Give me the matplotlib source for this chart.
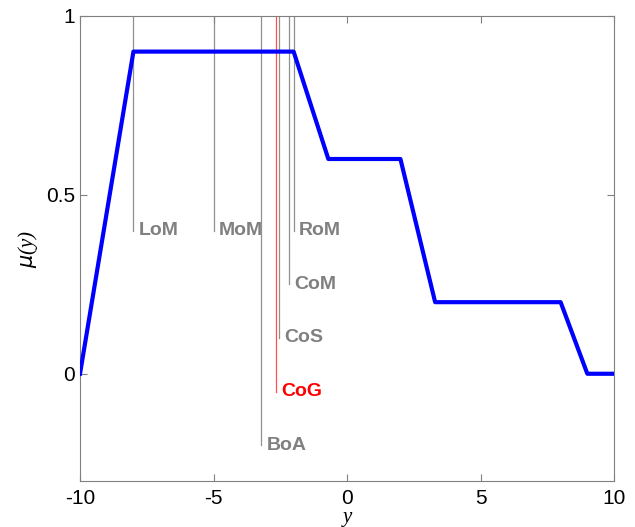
import matplotlib
matplotlib.use('Agg')
import matplotlib.pyplot as plt

# membership function (piecewise linear)
y_pts = [-10, -8, -2, -0.7, 2, 3.3, 8, 9, 10]
mu_pts = [0, 0.9, 0.9, 0.6, 0.6, 0.2, 0.2, 0, 0]

# defuzzification results: name, position, label level
names = ['LoM', 'MoM', 'RoM', 'CoM', 'CoS', 'CoG', 'BoA']
pos = [-8.0, -5.0, -2.0, -2.16, -2.56, -2.67, -3.21]
levels = [0.4, 0.4, 0.4, 0.25, 0.1, -0.05, -0.2]

plt.rcParams['font.family'] = ['Liberation Sans', 'DejaVu Sans']
plt.rcParams['axes.unicode_minus'] = False

fig = plt.figure(figsize=(6.35, 5.27), dpi=100)
ax = fig.add_axes([0.126, 0.087, 0.841, 0.883])

for n, p, lv in zip(names, pos, levels):
    if n == 'CoG':
        col_line, col_txt = '#ff5050', 'red'
    else:
        col_line, col_txt = '#909090', 'gray'
    ax.plot([p, p], [1, lv], color=col_line, lw=0.9, zorder=1)
    ax.text(p + 0.2, lv, n, color=col_txt, fontsize=14, fontweight='bold',
            va='center', ha='left')

ax.plot(y_pts, mu_pts, color='blue', lw=3, zorder=5)

ax.set_xlim(-10, 10)
ax.set_ylim(-0.3, 1)
ax.set_xticks([-10, -5, 0, 5, 10])
ax.set_yticks([0, 0.5, 1])
ax.set_yticklabels(['0', '0.5', '1'])
ax.tick_params(direction='in', top=True, right=True, labelsize=15,
               color='#808080', length=5)
ax.tick_params(axis='x', pad=6)
for s in ax.spines.values():
    s.set_color('#808080')

ax.set_xlabel('y', fontsize=15, style='italic', family='Liberation Serif', labelpad=0)
ax.set_ylabel(r'$\mu$(y)', fontsize=15, style='italic', family='Liberation Serif', labelpad=4)

fig.savefig('out.png', dpi=100)
